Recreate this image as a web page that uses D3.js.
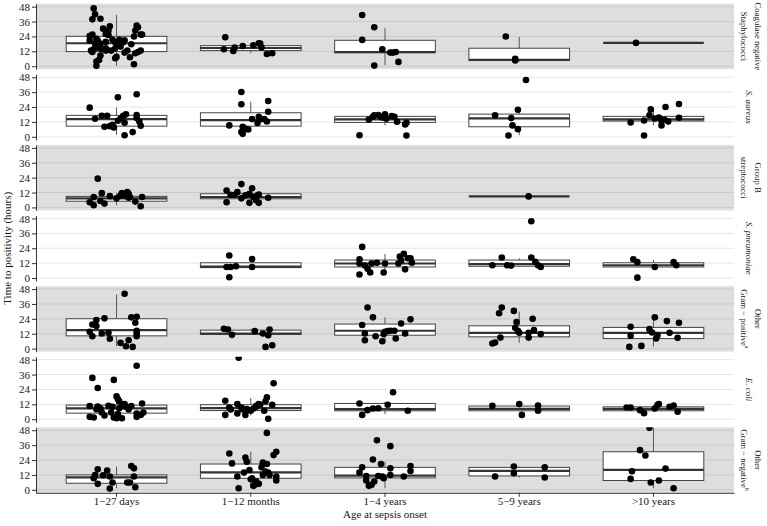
<!DOCTYPE html>
<html>
<head>
<meta charset="utf-8">
<script src="https://cdn.jsdelivr.net/npm/d3@7"></script>
<style>
  html, body { margin: 0; padding: 0; background: #fff; }
  svg { display: block; }
  text { font-family: "Liberation Serif", "Times New Roman", serif; fill: #1a1a1a; }
</style>
</head>
<body>
<svg id="chart" width="767" height="526"></svg>
<script>
// ---------------- DATA ----------------
const categories = ["1\u221227 days", "1\u221212 months", "1\u22124 years", "5\u22129 years", ">10 years"];
const organisms = ["Coagulase negative Staphylococci", "S. aureus", "Group B streptococci", "S. pneumoniae",
                   "Other Gram \u2212 positive", "E. coli", "Other Gram \u2212 negative"];
const stripLines = [
  ["Coagulase negative", "Staphylococci"],
  ["S. aureus"],
  ["Group B", "streptococci"],
  ["S. pneumoniae"],
  ["Other", "Gram \u2212 positive"],
  ["E. coli"],
  ["Other", "Gram \u2212 negative"]
];
const stripSuper = [null, null, null, null, "a", null, "b"];
const stripItalic = [false, true, false, true, false, true, false];
const yTicks = [0, 12, 24, 36, 48];
const xTitle = "Age at sepsis onset";
const yTitle = "Time to positivity (hours)";

// box stats per age group: [lower whisker, q1, median, q3, upper whisker]
const boxCoNS   = [[0.5, 11.8, 18.5, 24.1, 41.3], [10.5, 12.6, 14.7, 16.6, 18.5], [0.8, 11.0, 11.3, 20.9, 30.8], [3.5, 4.6, 5.1, 14.5, 23.6], [18.8, 18.8, 18.8, 18.8, 18.8]];
const boxSaureus = [[1.6, 8.6, 14.3, 17.3, 23.7], [4.0, 8.6, 13.5, 19.4, 28.3], [9.2, 11.6, 14.0, 16.5, 18.9], [1.3, 8.1, 14.8, 18.3, 21.8], [9.4, 12.7, 14.0, 16.5, 21.6]];
const boxGBS    = [[1.8, 5.0, 7.3, 8.9, 11.5], [3.1, 7.0, 8.4, 11.0, 15.4], null, [8.9, 8.9, 8.9, 8.9, 8.9], null];
const boxSpneu  = [null, [8.4, 8.4, 9.2, 12.3, 12.3], [4.7, 8.9, 11.7, 14.5, 19.3], [9.5, 9.5, 11.2, 14.5, 15.9], [8.9, 8.9, 10.3, 12.3, 14.5]];
const boxOGP    = [[1.9, 10.3, 14.9, 24.1, 43.6], [11.4, 11.4, 12.2, 14.9, 16.0], [5.4, 10.8, 14.4, 19.8, 25.2], [4.6, 9.5, 12.7, 18.4, 29.8], [1.9, 8.1, 12.7, 17.1, 25.7]];
const boxEcoli  = [[0.5, 4.9, 8.7, 11.4, 19.0], [3.0, 7.0, 8.9, 11.7, 17.1], [4.1, 6.8, 8.1, 12.7, 14.0], [6.8, 6.8, 8.4, 10.6, 12.2], [6.0, 6.8, 8.4, 10.0, 11.4]];
const boxOGN    = [[1.3, 5.3, 10.1, 12.0, 18.7], [1.3, 9.3, 14.1, 20.8, 30.7], [1.3, 9.6, 11.5, 18.1, 22.7], [9.9, 11.2, 15.2, 18.1, 18.7], [1.3, 7.5, 16.0, 30.7, 50.0]];

// observations per age group: [jitter (fraction of category step), hours]
const ptsCoNS = [
  [[-0.17,46.6],[-0.16,41.8],[-0.12,38.3],[-0.18,37.8],[-0.10,30.3],[-0.05,32.2],[-0.06,28.7],[0.15,32.7],[0.16,31.4],[0.14,28.7],
   [0.19,25.5],[0.18,25.5],[-0.18,25.5],[-0.20,24.4],[-0.08,26.0],[-0.06,25.2],[-0.15,22.2],[-0.20,20.6],[-0.14,20.6],[-0.16,18.2],
   [-0.12,18.2],[-0.08,19.6],[-0.03,21.4],[-0.01,19.3],[0.02,21.4],[0.06,20.9],[0.05,19.3],[0.01,16.9],[0.11,17.7],[0.13,23.9],
   [-0.19,12.6],[-0.17,13.7],[-0.18,11.5],[-0.14,15.0],[-0.11,13.7],[-0.08,14.5],[-0.07,13.1],[-0.04,12.6],[-0.01,14.5],[0.03,15.8],
   [0.06,11.0],[0.08,12.6],[0.14,10.5],[0.16,11.5],[0.18,12.6],[-0.12,8.6],[-0.13,5.1],[-0.15,3.8],[-0.15,0.3],[-0.01,6.4],
   [0.00,7.5],[0.10,7.2],[0.13,1.6],[-0.08,12.6]],
  [[-0.19,23.3],[-0.20,13.7],[-0.13,12.3],[-0.12,15.0],[-0.06,16.3],[0.02,16.9],[0.06,18.5],[0.07,18.2],[0.08,15.0],[0.12,9.9],[0.16,10.5]],
  [[-0.17,41.3],[-0.08,31.4],[-0.17,21.2],[-0.02,13.7],[0.04,11.0],[0.06,11.0],[0.08,11.5],[0.10,3.5],[-0.08,0.5]],
  [[-0.10,23.9],[-0.03,5.9],[-0.03,4.6]],
  [[-0.13,18.8]]
];
const ptsSaureus = [
  [[-0.20,23.5],[-0.16,14.6],[-0.11,17.0],[-0.07,17.0],[-0.09,8.1],[-0.05,8.6],[-0.02,7.6],[-0.03,9.7],[0.01,31.8],[0.01,12.9],
   [0.03,14.8],[0.05,17.0],[0.07,18.1],[0.06,11.3],[0.06,1.3],[0.12,3.8],[0.15,34.3],[0.15,17.5],[0.15,15.1],[0.17,12.4],[0.18,8.9]],
  [[-0.07,36.1],[-0.07,26.2],[-0.16,9.2],[-0.06,8.1],[-0.04,6.5],[-0.02,5.9],[-0.07,3.8],[-0.06,2.4],[0.01,14.3],[0.05,11.1],
   [0.13,28.9],[0.13,20.2],[0.06,16.2],[0.07,14.0],[0.10,14.3],[0.12,12.4]],
  [[-0.19,1.3],[-0.12,14.0],[-0.09,16.2],[-0.08,17.3],[-0.05,17.5],[-0.03,16.2],[-0.02,15.6],[0.00,18.1],[0.01,14.6],[0.05,16.7],
   [0.07,16.2],[0.09,12.1],[0.15,10.0],[0.16,11.3],[0.16,1.1]],
  [[-0.18,17.3],[-0.08,1.1],[0.05,45.8],[-0.01,21.8],[-0.06,15.1],[-0.05,9.2],[-0.01,6.2]],
  [[-0.17,11.6],[-0.07,1.1],[-0.07,13.2],[-0.03,17.3],[-0.02,22.1],[0.01,14.8],[0.04,15.6],[0.06,9.2],[0.06,12.9],[0.08,14.0],
   [0.11,12.4],[0.09,24.0],[0.19,26.4],[0.19,15.4]]
];
const ptsGBS = [
  [[-0.14,23.2],[-0.20,4.2],[-0.17,1.8],[-0.17,8.4],[-0.12,5.2],[-0.11,11.5],[-0.09,3.1],[-0.05,9.1],[0.00,7.3],[0.03,9.7],
   [0.04,11.5],[0.06,9.9],[0.09,7.8],[0.08,12.3],[0.09,11.0],[0.10,8.4],[0.14,4.7],[0.19,8.4],[0.18,1.0]],
  [[-0.18,13.6],[-0.18,4.2],[-0.15,10.2],[-0.12,10.2],[-0.10,12.3],[-0.07,18.8],[-0.07,7.3],[-0.04,9.7],[-0.01,3.7],[-0.01,11.0],
   [0.01,15.4],[0.02,8.4],[0.04,5.7],[0.06,10.4],[0.05,9.7],[0.06,3.7],[0.13,7.8]],
  [],
  [[0.07,8.9]],
  []
];
const ptsSpneu = [
  [],
  [[-0.16,18.1],[-0.18,8.9],[-0.15,8.9],[-0.11,9.5],[-0.16,0.6],[0.01,15.3],[0.01,8.9]],
  [[-0.17,25.1],[-0.19,15.1],[-0.19,11.7],[-0.15,10.0],[-0.13,7.5],[-0.11,4.5],[-0.19,2.8],[-0.10,11.7],[-0.06,12.3],[0.00,11.7],
   [-0.01,4.5],[0.10,11.7],[0.11,17.3],[0.14,19.5],[0.17,15.9],[0.19,15.9],[0.20,12.3],[0.15,7.0],[0.12,14.0]],
  [[-0.20,10.3],[-0.13,16.5],[-0.09,10.3],[-0.06,10.0],[0.09,45.8],[0.09,16.5],[0.12,13.1],[0.14,10.3],[0.16,8.9]],
  [[-0.15,15.1],[-0.12,12.8],[-0.12,0.3],[0.01,8.9],[0.15,12.8],[0.17,10.3]]
];
const ptsOGP = [
  [[0.06,44.2],[-0.18,19.5],[-0.15,18.2],[-0.15,23.0],[-0.09,24.4],[-0.20,13.6],[-0.18,10.0],[-0.11,12.2],[-0.05,7.9],[-0.06,12.7],
   [0.03,4.6],[0.09,6.8],[0.07,1.9],[0.12,1.4],[0.11,25.2],[0.15,25.7],[0.14,20.9],[0.15,14.4],[0.15,12.2],[0.15,10.0]],
  [[-0.20,16.0],[-0.17,15.4],[-0.14,11.1],[0.03,14.1],[0.09,12.2],[0.13,10.8],[0.14,15.4],[0.11,1.4],[0.16,2.7]],
  [[-0.13,33.1],[-0.09,25.2],[-0.17,19.0],[-0.15,12.2],[-0.15,6.8],[-0.07,10.0],[-0.02,6.0],[-0.01,11.7],[0.00,13.6],[0.02,14.1],
   [0.04,14.4],[0.07,14.4],[0.08,8.1],[0.12,20.3],[0.15,12.2],[0.19,23.6]],
  [[-0.15,28.5],[-0.13,33.1],[-0.14,8.9],[-0.18,4.9],[-0.20,4.1],[-0.04,30.4],[-0.02,21.4],[-0.03,16.8],[-0.01,14.4],[0.00,12.7],
   [0.07,12.7],[0.07,8.9],[0.10,24.1],[0.11,14.9],[0.16,11.7]],
  [[-0.18,1.4],[-0.09,2.2],[-0.17,17.6],[-0.17,10.3],[0.01,25.2],[-0.03,15.7],[-0.01,13.0],[0.03,10.8],[0.02,8.1],[0.10,22.2],
   [0.12,12.7],[0.18,8.7],[0.19,20.9]]
];
const ptsEcoli = [
  [[0.15,43.1],[-0.18,33.3],[-0.14,25.2],[-0.02,31.7],[0.00,18.4],[0.01,16.3],[0.02,14.4],[-0.20,10.6],[-0.20,1.9],[-0.17,1.4],
   [-0.15,8.1],[-0.14,10.3],[-0.12,8.7],[-0.11,5.4],[-0.09,3.0],[-0.06,10.8],[-0.03,10.0],[-0.04,5.4],[-0.02,1.4],[0.00,0.8],
   [0.01,4.1],[0.04,0.8],[0.02,8.9],[0.04,10.6],[0.06,12.2],[0.07,10.0],[0.09,7.9],[0.11,10.6],[0.15,1.9],[0.15,4.6],
   [0.18,3.5],[0.19,12.7],[0.20,5.4]],
  [[-0.09,49.6],[-0.19,14.9],[-0.19,3.5],[-0.16,9.5],[-0.15,7.9],[-0.10,12.2],[-0.10,4.6],[-0.07,9.5],[-0.06,7.9],[-0.04,3.5],
   [-0.03,8.1],[0.00,6.8],[0.02,8.7],[0.04,10.8],[0.06,12.2],[0.17,29.0],[0.12,17.6],[0.11,14.4],[0.16,11.7],[0.10,6.8],
   [0.13,0.3],[0.07,11.7],[0.04,10.0]],
  [[0.06,21.7],[-0.19,12.7],[-0.17,3.5],[-0.13,7.3],[-0.09,8.7],[-0.05,8.9],[0.02,11.7],[0.17,6.8]],
  [[-0.20,10.8],[0.00,12.2],[0.02,3.5],[0.14,11.1],[0.14,6.8]],
  [[-0.20,9.5],[-0.17,9.5],[-0.10,7.3],[-0.07,4.9],[0.01,8.7],[0.03,11.4],[0.04,12.2],[0.12,10.0],[0.15,11.1],[0.18,6.0]]
];
const ptsOGN = [
  [[-0.14,16.5],[-0.16,12.0],[-0.17,9.3],[-0.14,4.8],[-0.10,11.7],[-0.07,15.5],[-0.05,10.7],[-0.03,5.9],[-0.05,1.1],[0.11,19.2],
   [0.13,17.3],[0.13,10.7],[0.08,5.9],[0.10,5.9],[0.14,2.1]],
  [[-0.16,29.3],[-0.14,21.3],[-0.10,10.7],[-0.09,1.3],[-0.05,13.9],[-0.04,26.1],[-0.03,22.7],[0.00,8.5],[0.02,3.2],[0.04,6.7],
   [0.12,45.9],[0.19,30.7],[0.17,28.0],[0.09,21.9],[0.12,20.8],[0.08,18.1],[0.11,14.7],[0.13,13.9],[0.09,12.0],[0.14,12.0],
   [-0.01,16.0],[0.01,9.3],[0.03,4.0],[0.06,4.8],[0.19,10.7],[0.19,7.5]],
  [[-0.06,40.0],[0.04,35.2],[-0.09,24.5],[-0.17,18.1],[-0.19,13.9],[-0.14,11.2],[-0.14,7.5],[-0.12,3.2],[-0.10,4.0],[-0.08,6.7],
   [-0.05,11.2],[-0.02,10.7],[-0.01,9.3],[-0.03,20.8],[0.04,17.3],[0.04,12.0],[0.14,10.7],[0.19,19.2],[0.19,15.2]],
  [[-0.18,10.7],[-0.04,18.7],[-0.04,13.3],[0.19,18.1],[0.19,9.9]],
  [[-0.03,50.0],[-0.10,32.0],[-0.06,27.7],[-0.16,14.9],[-0.17,8.8],[-0.02,5.9],[0.04,7.5],[0.09,17.1],[0.15,1.3]]
];

const boxes = [boxCoNS, boxSaureus, boxGBS, boxSpneu, boxOGP, boxEcoli, boxOGN];
const points = [ptsCoNS, ptsSaureus, ptsGBS, ptsSpneu, ptsOGP, ptsEcoli, ptsOGN];

// ---------------- LAYOUT ----------------
const svg = d3.select("#chart");
const panelLeft = 36, panelRight = 734;
const panelTop0 = 3.7, panelH = 65.5, panelStep = 70.6;
const yDomain = [-2.4, 50.4];

const x = d3.scaleBand().domain(categories).range([panelLeft, panelRight])
  .paddingInner(0).paddingOuter(0.1);
const step = x.step();
const cx = c => x(c) + x.bandwidth() / 2;
const boxW = step * 0.75;

const defs = svg.append("defs");

organisms.forEach((org, r) => {
  const top = panelTop0 + r * panelStep;
  const y = d3.scaleLinear().domain(yDomain).range([top + panelH, top]);
  const grey = r % 2 === 0;
  const g = svg.append("g").attr("class", "panel");

  defs.append("clipPath").attr("id", "clip" + r)
    .append("rect").attr("x", panelLeft).attr("y", top)
    .attr("width", panelRight - panelLeft).attr("height", panelH);

  g.append("rect").attr("x", panelLeft).attr("y", top)
    .attr("width", panelRight - panelLeft).attr("height", panelH)
    .attr("fill", grey ? "#dedede" : "#ffffff");

  g.selectAll("line.grid").data(yTicks).enter().append("line")
    .attr("class", "grid")
    .attr("x1", panelLeft).attr("x2", panelRight)
    .attr("y1", d => y(d)).attr("y2", d => y(d))
    .attr("stroke", grey ? "#c9c9c9" : "#e6e6e6").attr("stroke-width", 1);

  const inner = g.append("g").attr("clip-path", "url(#clip" + r + ")");

  categories.forEach((cat, i) => {
    const b = boxes[r][i];
    const c = cx(cat);
    if (b) {
      const [lo, q1, med, q3, hi] = b;
      inner.append("line").attr("x1", c).attr("x2", c).attr("y1", y(hi)).attr("y2", y(q3))
        .attr("stroke", "#555").attr("stroke-width", 1);
      inner.append("line").attr("x1", c).attr("x2", c).attr("y1", y(q1)).attr("y2", y(lo))
        .attr("stroke", "#555").attr("stroke-width", 1);
      inner.append("rect").attr("x", c - boxW / 2).attr("y", y(q3))
        .attr("width", boxW).attr("height", Math.max(0, y(q1) - y(q3)))
        .attr("fill", "#ffffff").attr("stroke", "#444").attr("stroke-width", 1);
      inner.append("line").attr("x1", c - boxW / 2).attr("x2", c + boxW / 2)
        .attr("y1", y(med)).attr("y2", y(med))
        .attr("stroke", "#333").attr("stroke-width", 2.2);
    }
  });

  categories.forEach((cat, i) => {
    const c = cx(cat);
    inner.selectAll(null).data(points[r][i]).enter().append("circle")
      .attr("cx", d => c + d[0] * step)
      .attr("cy", d => y(d[1]))
      .attr("r", 3.3)
      .attr("fill", "#000");
  });

  // y axis
  const ax = svg.append("g").attr("transform", `translate(${panelLeft},0)`)
    .call(d3.axisLeft(y).tickValues(yTicks).tickSize(4).tickSizeOuter(0).tickPadding(2));
  ax.select(".domain").attr("stroke", "#333");
  ax.selectAll(".tick line").attr("stroke", "#333");
  ax.selectAll(".tick text").attr("font-size", 11)
    .attr("font-family", "Liberation Serif").attr("fill", "#1a1a1a");

  // strip labels
  const lines = stripLines[r];
  const cy = top + panelH / 2;
  const xs = lines.length === 2 ? [757.5, 743.5] : [748.5];
  lines.forEach((ln, k) => {
    const t = svg.append("text")
      .attr("transform", `translate(${xs[k]},${cy}) rotate(90)`)
      .attr("text-anchor", "middle")
      .attr("dominant-baseline", "central")
      .attr("font-size", stripItalic[r] ? 9 : 8.7)
      .attr("font-style", stripItalic[r] ? "italic" : "normal")
      .attr("fill", "#333");
    t.append("tspan").text(ln);
    if (k === 1 && stripSuper[r]) {
      t.append("tspan").attr("font-size", 6).attr("dy", -3).text(stripSuper[r]);
    }
  });
});

// x axis
const bottom = panelTop0 + (organisms.length - 1) * panelStep + panelH;
const xa = svg.append("g").attr("transform", `translate(0,${bottom})`)
  .call(d3.axisBottom(x).tickSize(4).tickSizeOuter(0).tickPadding(0.5));
xa.select(".domain").attr("stroke", "#333");
xa.selectAll(".tick line").attr("stroke", "#333");
xa.selectAll(".tick text").attr("font-size", 11)
  .attr("font-family", "Liberation Serif").attr("fill", "#1a1a1a");

svg.append("text").attr("x", (panelLeft + panelRight) / 2).attr("y", 518)
  .attr("text-anchor", "middle").attr("font-size", 11).text(xTitle);

svg.append("text")
  .attr("transform", `translate(11,${(panelTop0 + bottom) / 2}) rotate(-90)`)
  .attr("text-anchor", "middle").attr("font-size", 11).text(yTitle);
</script>
</body>
</html>
